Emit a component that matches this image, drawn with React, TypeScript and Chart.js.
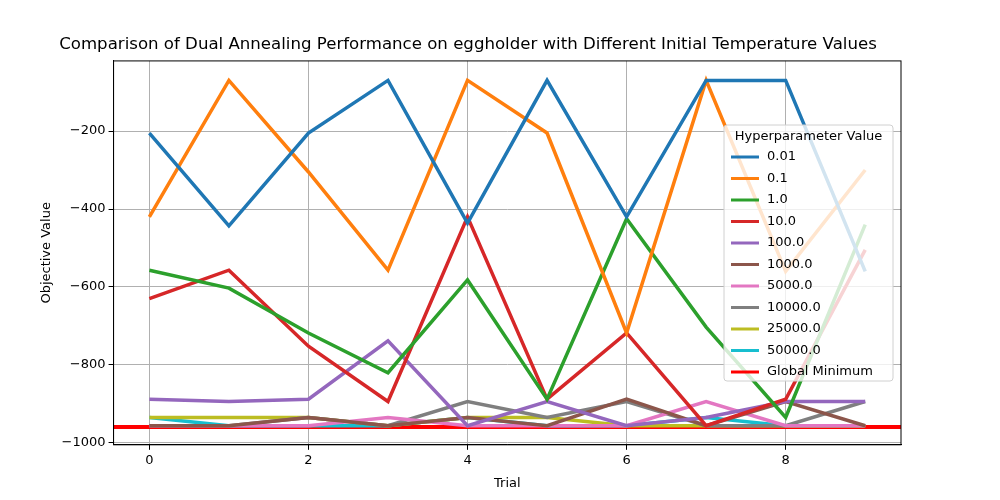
import React, { useEffect, useRef } from 'react';
import { Chart, registerables } from 'chart.js';

Chart.register(...registerables);

const trials = [0, 1, 2, 3, 4, 5, 6, 7, 8, 9];
const seriesNames = ['0.01', '0.1', '1.0', '10.0', '100.0', '1000.0', '5000.0', '10000.0', '25000.0', '50000.0'];
const seriesColors = ['#1f77b4', '#ff7f0e', '#2ca02c', '#d62728', '#9467bd', '#8c564b', '#e377c2', '#7f7f7f', '#bcbd22', '#17becf'];
const seriesValues = [
  [-205, -443, -205, -70, -436, -70, -420, -70, -70, -560],
  [-420, -70, -305, -557, -70, -205, -718, -70, -560, -300],
  [-557, -603, -718, -820, -582, -888, -425, -703, -935, -440],
  [-630, -557, -752, -894, -420, -888, -718, -956, -888, -505],
  [-888, -894, -888, -738, -956, -894, -956, -935, -894, -894],
  [-956, -956, -935, -956, -935, -956, -888, -956, -894, -956],
  [-956, -956, -956, -935, -956, -956, -956, -894, -956, -956],
  [-956, -956, -935, -956, -894, -935, -894, -956, -956, -894],
  [-935, -935, -935, -956, -935, -935, -956, -956, -956, -956],
  [-935, -956, -956, -956, -935, -956, -956, -935, -956, -956],
];
const globalMin = -959.64;

const framePlugin = {
  id: 'frame',
  afterDatasetsDraw(chart: any) {
    const { ctx, chartArea: a } = chart;
    ctx.save();
    ctx.strokeStyle = '#000';
    ctx.lineWidth = 1;
    ctx.strokeRect(a.left, a.top, a.right - a.left, a.bottom - a.top);
    ctx.restore();
  },
};

const legendPlugin = {
  id: 'boxLegend',
  afterDraw(chart: any) {
    const ctx = chart.ctx;
    const x = 724, y = 125, w = 169, h = 256;
    ctx.save();
    ctx.fillStyle = 'rgba(255,255,255,0.8)';
    ctx.strokeStyle = '#d0d0d0';
    ctx.lineWidth = 1;
    ctx.beginPath();
    ctx.roundRect(x, y, w, h, 3);
    ctx.fill();
    ctx.stroke();
    ctx.font = '13px "DejaVu Sans"';
    ctx.fillStyle = '#000';
    ctx.textBaseline = 'middle';
    ctx.textAlign = 'center';
    ctx.fillText('Hyperparameter Value', x + w / 2, y + 12);
    ctx.textAlign = 'left';
    const names = [...seriesNames, 'Global Minimum'];
    const colors = [...seriesColors, '#ff0000'];
    names.forEach((n, i) => {
      const yy = y + 32 + i * 21.5;
      ctx.strokeStyle = colors[i];
      ctx.lineWidth = 3;
      ctx.beginPath();
      ctx.moveTo(x + 7, yy);
      ctx.lineTo(x + 35, yy);
      ctx.stroke();
      ctx.fillText(n, x + 43, yy);
    });
    ctx.restore();
  },
};

const App = () => {
  const chartRef = useRef<HTMLCanvasElement>(null);

  useEffect(() => {
    if (!chartRef.current) return;
    const datasets: any[] = seriesNames.map((name, i) => ({
      label: name,
      data: trials.map((t, j) => ({ x: t, y: seriesValues[i][j] })),
      borderColor: seriesColors[i],
      backgroundColor: seriesColors[i],
      borderWidth: 3.5,
      pointRadius: 0,
      tension: 0,
    }));
    datasets.push({
      label: 'Global Minimum',
      data: [{ x: -0.45, y: globalMin }, { x: 9.45, y: globalMin }],
      borderColor: '#ff0000',
      borderWidth: 4,
      pointRadius: 0,
    });
    const tickFont = { family: '"DejaVu Sans"', size: 13 };
    const myChart = new Chart(chartRef.current, {
      type: 'line',
      data: { datasets },
      plugins: [framePlugin, legendPlugin],
      options: {
        animation: false,
        responsive: false,
        layout: { padding: { left: 35, right: 99, top: 10, bottom: 5 } },
        plugins: {
          legend: { display: false },
          tooltip: { enabled: false },
          title: {
            display: true,
            text: 'Comparison of Dual Annealing Performance on eggholder with Different Initial Temperature Values',
            font: { family: '"DejaVu Sans"', size: 16.6, weight: 'normal' },
            color: '#000',
            padding: { top: 25, bottom: 6 },
          },
        },
        scales: {
          x: {
            type: 'linear',
            min: -0.45,
            max: 9.45,
            afterBuildTicks: (axis: any) => { axis.ticks = [0, 2, 4, 6, 8].map((v) => ({ value: v })); },
            ticks: { color: '#000', font: tickFont },
            grid: { color: '#b0b0b0', tickColor: '#000', tickLength: 5 },
            border: { color: '#000' },
            title: { display: true, text: 'Trial', color: '#000', font: tickFont },
          },
          y: {
            min: -1005,
            max: -20,
            afterBuildTicks: (axis: any) => { axis.ticks = [-1000, -800, -600, -400, -200].map((v) => ({ value: v })); },
            ticks: { color: '#000', font: tickFont, callback: (v: any) => '\u2212' + Math.abs(v) },
            grid: { color: '#b0b0b0', tickColor: '#000', tickLength: 5 },
            border: { color: '#000' },
            title: { display: true, text: 'Objective Value', color: '#000', font: tickFont },
          },
        },
      },
    });
    return () => myChart.destroy();
  }, []);

  return <canvas ref={chartRef} width={1000} height={500} style={{ position: 'absolute', left: 0, top: 0 }} />;
};

export default App;
